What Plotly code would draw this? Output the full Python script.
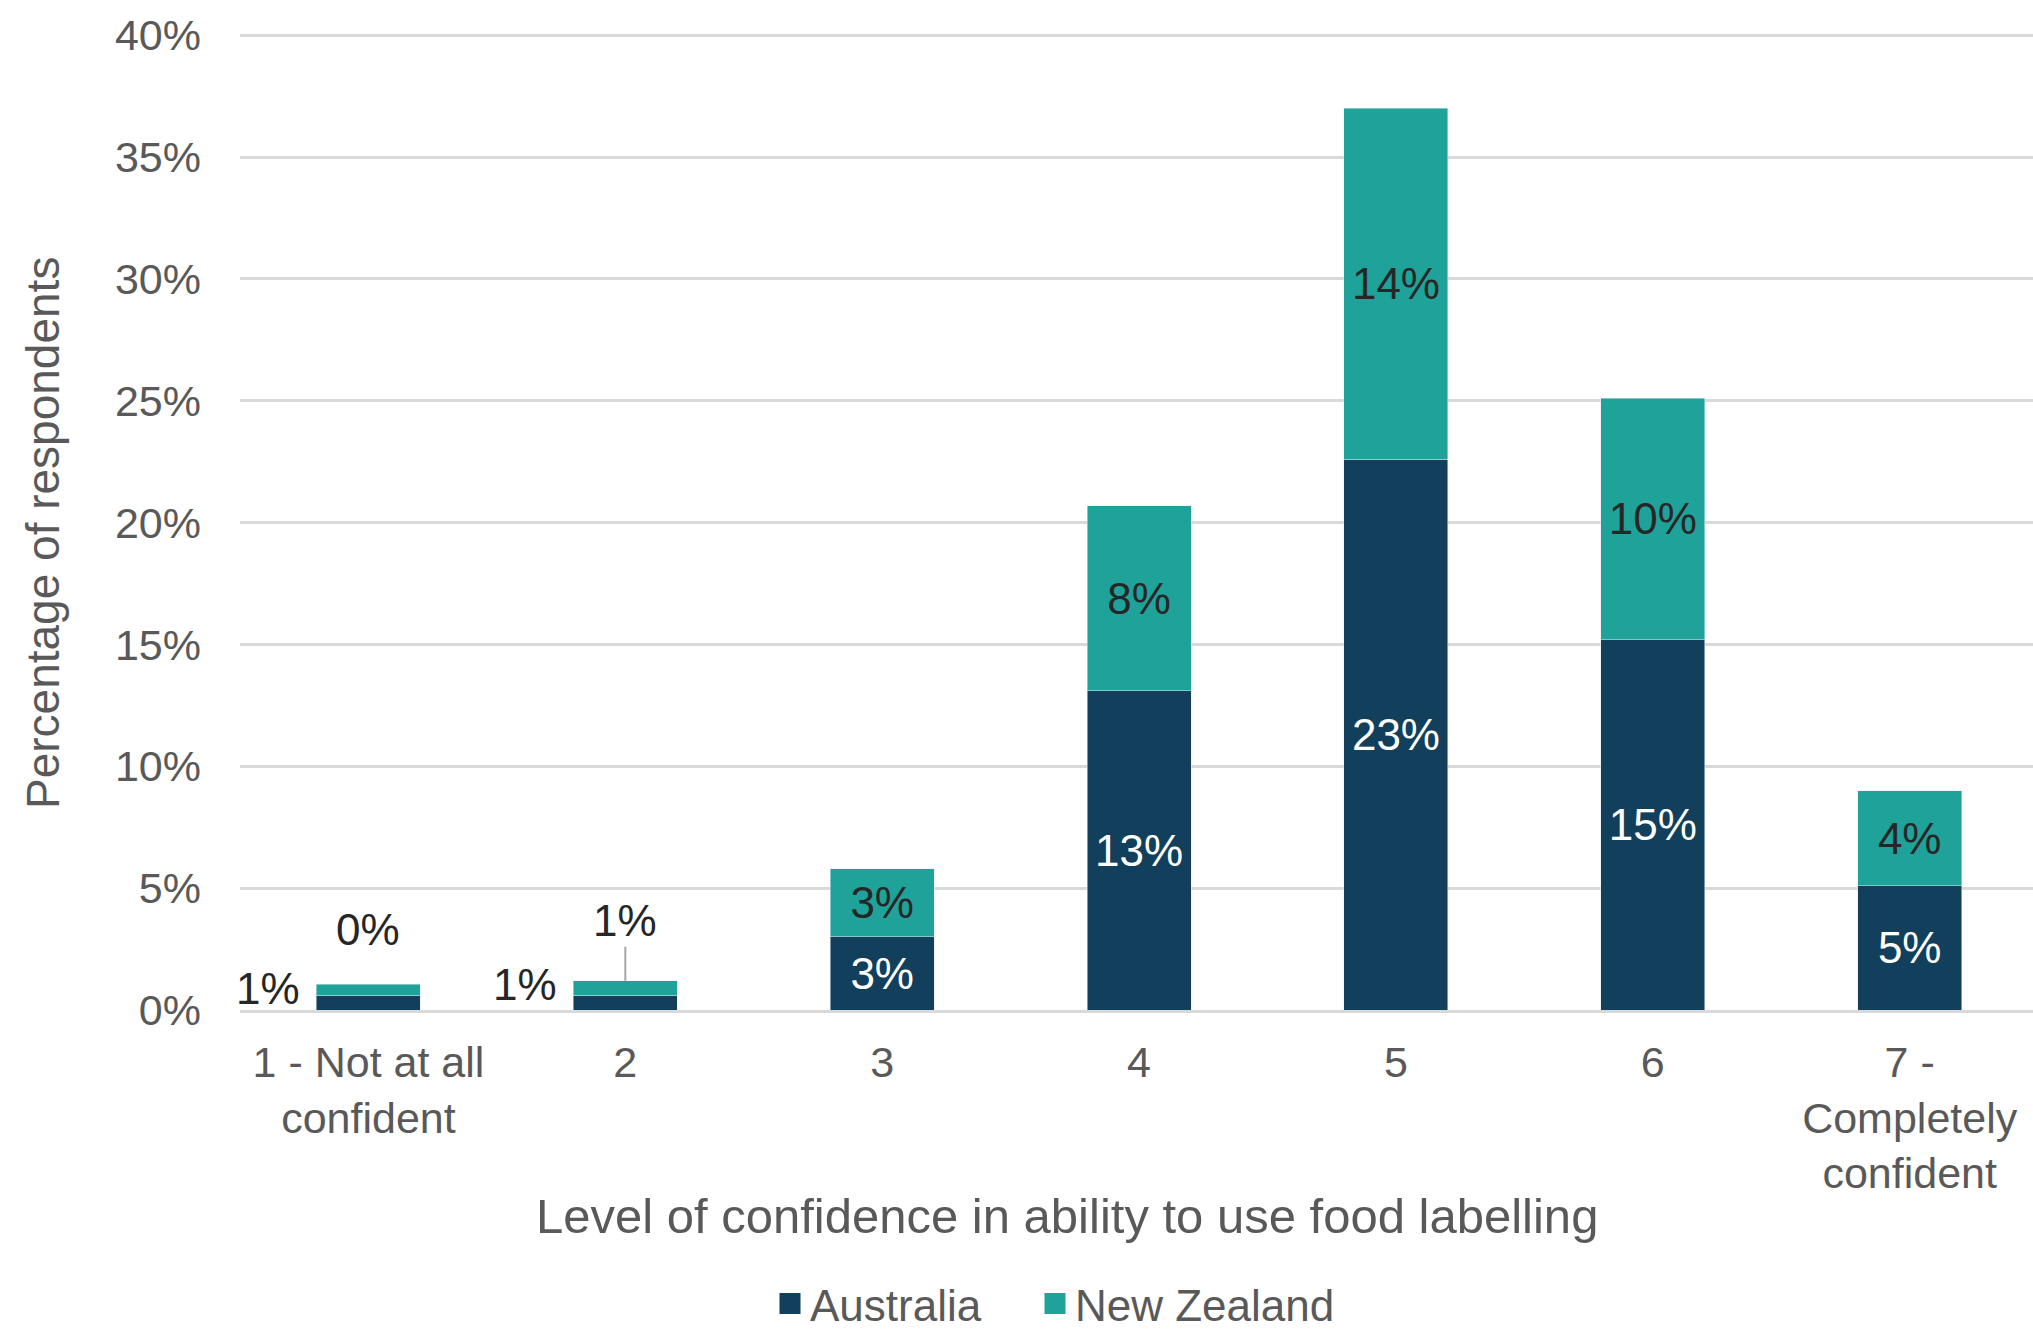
import plotly.graph_objects as go

# Survey results: confidence in ability to use food labelling (% of respondents)
categories = ["1 - Not at all<br>confident", "2", "3", "4", "5", "6", "7 -<br>Completely<br>confident"]
australia = [0.6, 0.6, 3.0, 13.1, 22.6, 15.2, 5.1]
new_zealand = [0.45, 0.6, 2.8, 7.6, 14.4, 9.9, 3.9]
y_ticks = [0, 5, 10, 15, 20, 25, 30, 35, 40]
y_tick_labels = [f"{t}%" for t in y_ticks]

AUS_COLOR = "#113F5C"
NZ_COLOR = "#1FA29A"
TEXT_GRAY = "#595959"
GRID = "#D9D9D9"
FONT = "Liberation Sans, Arial, sans-serif"

# plot area in pixels (used to place titles in paper coordinates)
PLOT_TOP, PLOT_BOTTOM, PLOT_LEFT, PLOT_RIGHT = 34, 1010, 240, 2033
PLOT_H = PLOT_BOTTOM - PLOT_TOP
PLOT_W = PLOT_RIGHT - PLOT_LEFT


def px_x(p):
    return (p - PLOT_LEFT) / PLOT_W


def px_y(p):
    return (PLOT_BOTTOM - p) / PLOT_H


# bars too short to hold their labels get callouts instead
SMALL = 2


def pct(v):
    return f"{round(v)}%"


aus_text = ["" if i < SMALL else pct(v) for i, v in enumerate(australia)]
nz_text = ["" if i < SMALL else pct(v) for i, v in enumerate(new_zealand)]

fig = go.Figure()
fig.add_trace(go.Bar(
    name="Australia", x=categories, y=australia, marker_color=AUS_COLOR,
    text=aus_text, textposition="inside", insidetextanchor="middle",
    textfont=dict(color="white", size=44, family=FONT), textangle=0,
    showlegend=False, legendgroup="aus",
))
fig.add_trace(go.Bar(
    name="New Zealand", x=categories, y=new_zealand, marker_color=NZ_COLOR,
    text=nz_text, textposition="inside", insidetextanchor="middle",
    textfont=dict(color="#262626", size=44, family=FONT), textangle=0,
    showlegend=False, legendgroup="nz",
))
# legend keys: square swatches, one legend box per series
for name, color, group, leg in [("Australia", AUS_COLOR, "aus", "legend"),
                                ("New Zealand", NZ_COLOR, "nz", "legend2")]:
    fig.add_trace(go.Scatter(
        x=[None], y=[None], mode="markers", name=name, legendgroup=group, legend=leg,
        marker=dict(symbol="square", size=16, color=color, line=dict(color=color, width=5)),
    ))

annotations = []
label_font = dict(size=44, color="#262626", family=FONT)
# Australia callouts to the left of the short bars (x given as category index)
for i, yshift in [(0, 14), (1, 18)]:
    annotations.append(dict(
        x=i, y=australia[i] / 2, xref="x", yref="y",
        text=pct(australia[i]), showarrow=False, xanchor="right", yanchor="middle",
        xshift=-66, yshift=yshift, font=label_font,
    ))
# New Zealand callouts above the short bars
annotations.append(dict(
    x=0, y=australia[0] + new_zealand[0], xref="x", yref="y",
    text=pct(new_zealand[0]), showarrow=False, yanchor="bottom", yshift=28,
    font=label_font,
))
annotations.append(dict(
    x=1, y=australia[1] + new_zealand[1], xref="x", yref="y",
    text=pct(new_zealand[1]), showarrow=True, arrowhead=0, arrowwidth=2,
    arrowcolor="#A6A6A6", ax=0, ay=-60, standoff=0, font=label_font,
))
# axis titles
annotations.append(dict(
    x=px_x(43), y=px_y(533), xref="paper", yref="paper",
    text="Percentage of respondents",
    textangle=-90, showarrow=False, xanchor="center", yanchor="middle",
    font=dict(size=46, color=TEXT_GRAY, family=FONT),
))
annotations.append(dict(
    x=px_x(1067), y=px_y(1216), xref="paper", yref="paper",
    text="Level of confidence in ability to use food labelling",
    showarrow=False, xanchor="center", yanchor="middle",
    font=dict(size=49, color=TEXT_GRAY, family=FONT),
))

legend_style = dict(
    orientation="h", xanchor="left", yanchor="middle", y=px_y(1304),
    font=dict(size=44, color=TEXT_GRAY, family=FONT), itemwidth=30,
    bgcolor="rgba(0,0,0,0)",
)

fig.update_layout(
    width=2033, height=1332,
    margin=dict(l=PLOT_LEFT, r=0, t=PLOT_TOP, b=1332 - PLOT_BOTTOM, autoexpand=False),
    barmode="stack", bargap=0.595,
    plot_bgcolor="white", paper_bgcolor="white",
    font=dict(family=FONT, color=TEXT_GRAY, size=43),
    annotations=annotations,
    legend=dict(x=px_x(770), **legend_style),
    legend2=dict(x=px_x(1035), **legend_style),
    showlegend=True,
)
fig.update_xaxes(
    range=[-0.5, 6.48], showgrid=False, showline=True, linecolor=GRID, linewidth=3,
    ticks="", ticklabelstandoff=12, tickfont=dict(size=43, color=TEXT_GRAY),
)
fig.update_yaxes(
    range=[0, 40.05], tickvals=y_ticks, ticktext=y_tick_labels,
    showgrid=True, gridcolor=GRID, gridwidth=3, zeroline=False,
    ticks="", ticklabelstandoff=38, tickfont=dict(size=43, color=TEXT_GRAY),
)

fig.write_html("out.html")
